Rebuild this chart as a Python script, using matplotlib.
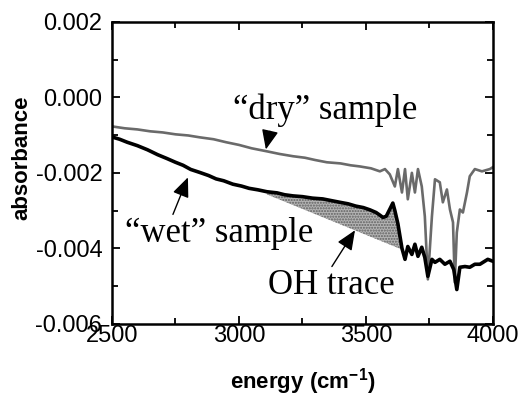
import numpy as np
import matplotlib
matplotlib.use("Agg")
import matplotlib.pyplot as plt

plt.rcParams['font.family'] = ['Liberation Sans', 'DejaVu Sans']
plt.rcParams['axes.unicode_minus'] = False

# "dry" sample (grey trace)
dry_x = [2500, 2550, 2600, 2650, 2700, 2750, 2800, 2846, 2900, 2950, 3000, 3050,
         3110, 3160, 3213, 3260, 3300, 3346, 3400, 3440, 3476, 3520, 3555, 3575,
         3594, 3614, 3626, 3642, 3654, 3665, 3681, 3693, 3705, 3720, 3732, 3744,
         3760, 3772, 3791, 3803, 3819, 3831, 3843, 3850, 3858, 3870, 3882, 3898,
         3909, 3929, 3957, 3988, 4000]
dry_y = [-0.00077, -0.00082, -0.00085, -0.00090, -0.00093, -0.00098, -0.00101, -0.00106,
         -0.00111, -0.00119, -0.00126, -0.00135, -0.00143, -0.00150, -0.00156, -0.00160,
         -0.00166, -0.00172, -0.00175, -0.00180, -0.00183, -0.00188, -0.00196, -0.00190,
         -0.00204, -0.00236, -0.00190, -0.00252, -0.00190, -0.00270, -0.00200, -0.00252,
         -0.00190, -0.00236, -0.00315, -0.00482, -0.00315, -0.00217, -0.00225, -0.00278,
         -0.00244, -0.00297, -0.00331, -0.00490, -0.00358, -0.00297, -0.00305, -0.00252,
         -0.00209, -0.00190, -0.00196, -0.00190, -0.00185]

# "wet" sample (black trace)
wet_x = [2500, 2530, 2560, 2600, 2640, 2680, 2716, 2750, 2780, 2810, 2846, 2880,
         2910, 2940, 2976, 3010, 3040, 3075, 3110, 3150, 3180, 3213, 3250, 3290,
         3330, 3360, 3398, 3430, 3460, 3490, 3516, 3540, 3555, 3567, 3580, 3595,
         3606, 3614, 3626, 3642, 3654, 3665, 3681, 3693, 3705, 3720, 3732, 3744,
         3760, 3772, 3791, 3811, 3831, 3846, 3858, 3870, 3890, 3909, 3929, 3949,
         3968, 3980, 4000]
wet_y = [-0.00105, -0.00111, -0.00119, -0.00128, -0.00139, -0.00152, -0.00162, -0.00172,
         -0.00180, -0.00191, -0.00199, -0.00207, -0.00216, -0.00221, -0.00230, -0.00235,
         -0.00241, -0.00245, -0.00250, -0.00253, -0.00258, -0.00261, -0.00263, -0.00267,
         -0.00269, -0.00273, -0.00278, -0.00282, -0.00288, -0.00292, -0.00298, -0.00305,
         -0.00312, -0.00318, -0.00315, -0.00295, -0.00280, -0.00300, -0.00335, -0.00400,
         -0.00429, -0.00395, -0.00416, -0.00389, -0.00421, -0.00397, -0.00424, -0.00474,
         -0.00429, -0.00437, -0.00429, -0.00442, -0.00434, -0.00456, -0.00509, -0.00450,
         -0.00448, -0.00450, -0.00442, -0.00442, -0.00434, -0.00429, -0.00434]

# OH trace baseline (straight line under the wet trace)
oh_start = (3110, -0.00257)
oh_end = (3642, -0.00403)

x_ticks = [2500, 3000, 3500, 4000]
x_labels = ['2500', '3000', '3500', '4000']
y_ticks = [0.002, 0.000, -0.002, -0.004, -0.006]
y_labels = ['0.002', '0.000', '-0.002', '-0.004', '-0.006']

fig = plt.figure(figsize=(5.21, 3.96), dpi=100)
ax = fig.add_axes([0.215, 0.182, 0.731, 0.763])

# shaded OH region
wx = np.array(wet_x)
wy = np.array(wet_y)
sel = (wx >= oh_start[0]) & (wx <= oh_end[0])
base = np.interp(wx[sel], [oh_start[0], oh_end[0]], [oh_start[1], oh_end[1]])
ax.fill_between(wx[sel], base, wy[sel], facecolor='#b4b4b4', edgecolor='#606060',
                hatch='......', linewidth=0)

ax.plot(dry_x, dry_y, color='#6a6a6a', lw=1.9)
ax.plot(wet_x, wet_y, color='black', lw=2.6)

ax.set_xlim(2500, 4000)
ax.set_ylim(-0.006, 0.002)
ax.set_xticks(x_ticks)
ax.set_xticklabels(x_labels)
ax.set_yticks(y_ticks)
ax.set_yticklabels(y_labels)
ax.set_xticks([2750, 3250, 3750], minor=True)
ax.set_yticks([0.001, -0.001, -0.003, -0.005], minor=True)
ax.tick_params(which='both', direction='in', top=True, right=True, width=1.3, labelsize=17)
ax.tick_params(axis='x', which='major', length=6, pad=1)
ax.tick_params(axis='y', which='major', length=6, pad=7)
ax.tick_params(which='minor', length=4)
for s in ax.spines.values():
    s.set_linewidth(1.8)

ax.set_xlabel('energy (cm$^{\\mathregular{-1}}$)', fontsize=16, fontweight='bold')
ax.xaxis.set_label_coords(0.5, -0.14)
ax.set_ylabel('absorbance', fontsize=16, fontweight='bold')
ax.yaxis.set_label_coords(-0.21, 0.55)

serif = ['Liberation Serif', 'DejaVu Serif']
ax.text(2976, -0.00058, '\u201cdry\u201d sample', family=serif, fontsize=25, va='baseline')
ax.text(2551, -0.00384, '\u201cwet\u201d sample', family=serif, fontsize=25, va='baseline')
ax.text(3114, -0.00522, 'OH trace', family=serif, fontsize=25, va='baseline')

arrow = dict(arrowstyle='-|>,head_length=0.75,head_width=0.32', color='black',
             lw=1.0, mutation_scale=16, shrinkA=0, shrinkB=0)
ax.annotate('', xy=(3106, -0.00138), xytext=(3122, -0.00090), arrowprops=arrow)
ax.annotate('', xy=(2799, -0.00212), xytext=(2740, -0.00310), arrowprops=arrow)
ax.annotate('', xy=(3457, -0.00352), xytext=(3366, -0.00448), arrowprops=arrow)

fig.savefig('out.png', dpi=100)
